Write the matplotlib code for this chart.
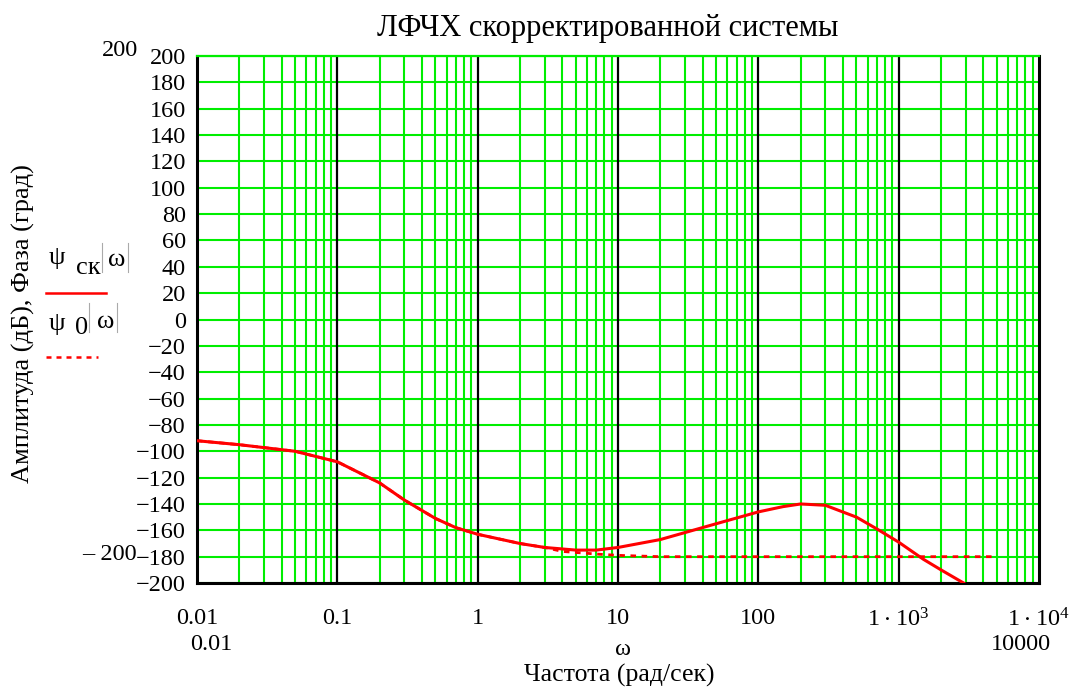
import matplotlib
matplotlib.use("Agg")
import matplotlib.pyplot as plt
from matplotlib.lines import Line2D
from matplotlib.ticker import FixedLocator, NullFormatter

plt.rcParams['font.family'] = ['Liberation Serif', 'DejaVu Serif']
plt.rcParams['mathtext.fontset'] = 'custom'
plt.rcParams['mathtext.rm'] = 'Liberation Serif'

# phase of corrected system psi_sk(w)
w_sk = [0.01, 0.02, 0.05, 0.1, 0.2, 0.3, 0.5, 0.7, 1, 2, 3, 5, 7, 10, 20, 50,
        100, 150, 200, 300, 500, 700, 1000, 1500, 2000, 2900]
psi_sk = [-92, -95, -100, -108, -124, -137, -151, -158, -163, -170, -173, -175, -175, -173,
          -167, -155, -146, -142, -140, -141, -150, -159, -169, -182, -190, -200]

# phase of initial system psi_0(w)
w_0 = [0.01, 0.02, 0.05, 0.1, 0.2, 0.3, 0.5, 0.7, 1, 2, 3, 4, 7, 10, 20, 100, 1000, 5000]
psi_0 = [-92, -95, -100, -108, -124, -137, -151, -158, -163, -170, -173, -176, -178, -179,
         -180, -180, -180, -180]

y_ticks = list(range(-200, 201, 20))
x_ticks = [0.01, 0.1, 1, 10, 100, 1000, 10000]
x_labels = ['0.01', '0.1', '1', '10', '100', r'$\mathregular{1\cdot10^{3}}$', r'$\mathregular{1\cdot10^{4}}$']

green = '#00ee00'
fs = 17.5

fig = plt.figure(figsize=(10.69, 6.89), dpi=100)
ax = fig.add_axes([0.1843, 0.1538, 0.7877, 0.7649])

ax.set_xscale('log')
ax.set_xlim(0.01, 10000)
ax.set_ylim(-200, 200)

# grid
minor = [m * 10.0 ** e for e in range(-2, 4) for m in range(2, 10)]
for x in minor:
    ax.axvline(x, color=green, lw=1.5, zorder=1)
for x in x_ticks[1:-1]:
    ax.axvline(x, color='black', lw=1.6, zorder=1.5)
for y in y_ticks:
    ax.axhline(y, color=green, lw=1.5, zorder=1)

ax.plot(w_sk, psi_sk, color='red', lw=2.2, zorder=3)
ax.plot(w_0, psi_0, color='red', lw=2.0, ls=(0, (2, 2)), zorder=2.5)

ax.xaxis.set_major_locator(FixedLocator(x_ticks))
ax.set_xticklabels(x_labels)
ax.xaxis.set_minor_formatter(NullFormatter())
ax.set_yticks(y_ticks)
ax.tick_params(axis='both', which='both', length=0, labelsize=fs)
ax.tick_params(axis='y', pad=8)
ax.tick_params(axis='x', pad=18)

for s in ['left', 'bottom', 'right']:
    ax.spines[s].set_color('black')
    ax.spines[s].set_linewidth(2.2)
ax.spines['top'].set_color(green)
ax.spines['top'].set_linewidth(1.6)

fig.text(0.568, 0.959, 'ЛФЧХ скорректированной системы', fontsize=22,
         ha='center', va='center')

# Mathcad-style range labels and axis annotations
fig.text(0.0955, 0.927, '200', fontsize=fs, ha='left', va='center')
fig.text(0.077, 0.1945, '– 200', fontsize=fs, ha='left', va='center')
fig.text(0.198, 0.064, '0.01', fontsize=fs, ha='center', va='center')
fig.text(0.955, 0.064, '10000', fontsize=fs, ha='center', va='center')
fig.text(0.583, 0.058, 'ω', fontsize=fs, ha='center', va='center')
fig.text(0.579, 0.020, 'Частота (рад/сек)', fontsize=18.5, ha='center', va='center')
fig.text(0.022, 0.53, 'Амплитуда (дБ), Фаза (град)', fontsize=19, rotation=90,
         ha='center', va='center')

# legend (drawn like Mathcad trace labels)
lfs = 19
bracket = dict(color='#aaaaaa', lw=0.8)
fig.text(0.0533, 0.6255, 'ψ', fontsize=lfs, ha='center', va='center')
fig.text(0.0823, 0.611, 'ск', fontsize=lfs, ha='center', va='center')
fig.text(0.109, 0.623, 'ω', fontsize=lfs, ha='center', va='center')
fig.add_artist(Line2D([0.0954, 0.0954], [0.605, 0.647], **bracket))
fig.add_artist(Line2D([0.1197, 0.1197], [0.605, 0.647], **bracket))
fig.add_artist(Line2D([0.043, 0.099], [0.5747, 0.5747], color='red', lw=1.8))

fig.text(0.0533, 0.530, 'ψ', fontsize=lfs, ha='center', va='center')
fig.text(0.0767, 0.524, '0', fontsize=lfs, ha='center', va='center')
fig.text(0.0992, 0.533, 'ω', fontsize=lfs, ha='center', va='center')
fig.add_artist(Line2D([0.0833, 0.0833], [0.518, 0.560], **bracket))
fig.add_artist(Line2D([0.1094, 0.1094], [0.518, 0.560], **bracket))
fig.add_artist(Line2D([0.043, 0.0917], [0.482, 0.482], color='red', lw=1.8,
                      ls=(0, (2, 2))))

fig.savefig('out.png', dpi=100)
